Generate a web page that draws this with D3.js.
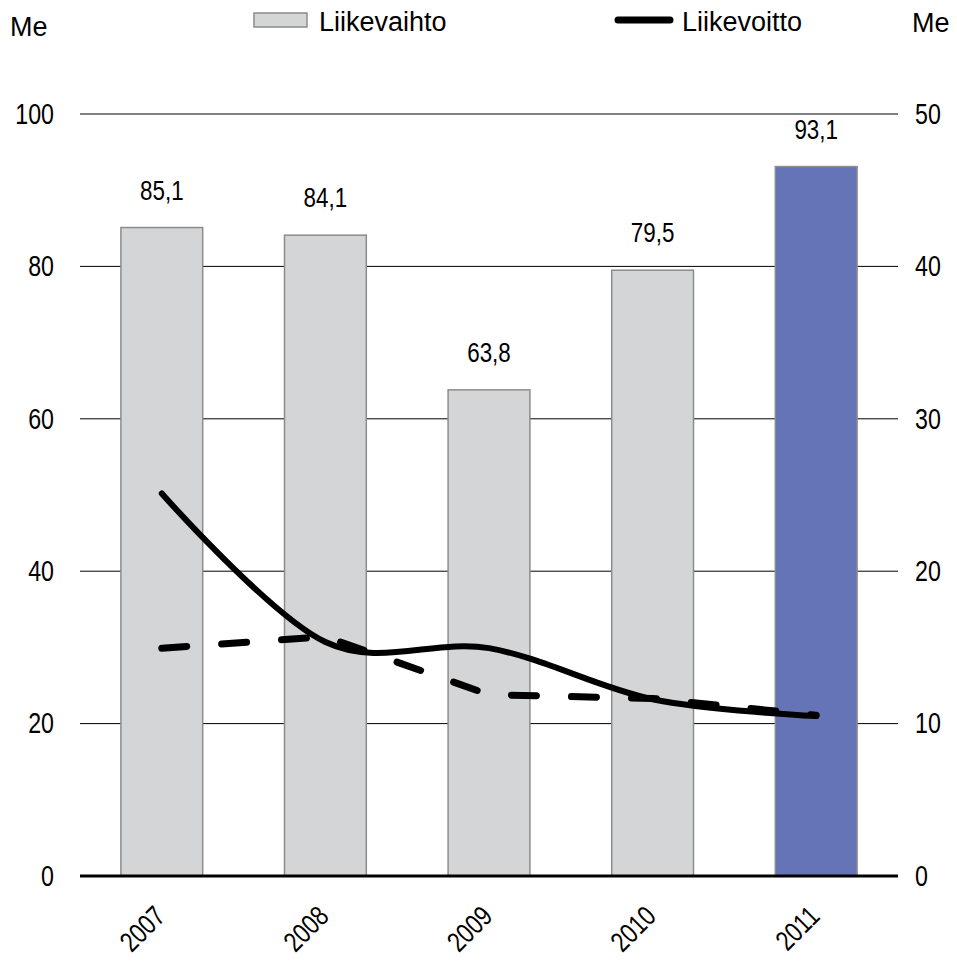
<!DOCTYPE html>
<html>
<head>
  <script src="https://d3js.org/d3.v7.min.js"></script>
  <meta charset='utf-8'>
  <title>Liikevaihto ja liikevoitto</title>
  <style>
    body { margin: 0; background: #fff; }
    svg text { font-family: "Liberation Sans", Arial, sans-serif; fill: #000; }
  </style>
</head>

<body>
  <div id="container"></div>

  <script>
  // data
  const years = ["2007", "2008", "2009", "2010", "2011"];
  const liikevaihto = [85.1, 84.1, 63.8, 79.5, 93.1];
  const liikevoitto = [25.1, 15.35, 14.95, 11.6, 10.5];
  const dashed = [14.95, 15.7, 11.9, 11.65, 10.55];
  const leftTicks = [0, 20, 40, 60, 80, 100];
  const rightTicks = [0, 10, 20, 30, 40, 50];

  const
  width = 957,
  height = 961,
  narrow = "scale(0.8,1)", // no Arial Narrow here, so squeeze Liberation Sans
  margin = {
    top: 114,
    bottom: 85,
    left: 80,
    right: 59,
  };

  const svg = d3.select("#container").append("svg")
  .attr("width", width)
  .attr("height", height)

  const x = d3.scaleBand()
  .domain(years)
  .range([margin.left, width - margin.right])
  .paddingInner(0.5)
  .paddingOuter(0.25)

  const yL = d3.scaleLinear().domain([0, 100]).range([height - margin.bottom, margin.top])
  const yR = d3.scaleLinear().domain([0, 50]).range([height - margin.bottom, margin.top])

  const cx = (d, i) => x(years[i]) + x.bandwidth() / 2

  // gridlines
  svg.append("g")
  .selectAll("line")
  .data(leftTicks.filter(d => d > 0))
  .enter()
  .append("line")
  .attr("x1", margin.left)
  .attr("x2", width - margin.right)
  .attr("y1", d => yL(d))
  .attr("y2", d => yL(d))
  .attr("stroke", "#000")
  .attr("stroke-width", 1)

  // left axis labels
  const leftAxis = svg.append("g")
  .attr("transform", `translate(${margin.left - 26},0)`)
  .call(d3.axisLeft(yL).tickValues(leftTicks).tickSize(0).tickPadding(0))
  leftAxis.select(".domain").remove()
  leftAxis.selectAll("text")
  .attr("font-size", 29)
  .attr("font-family", null)
  .attr("transform", narrow)

  // right axis labels
  const rightAxis = svg.append("g")
  .attr("transform", `translate(${width - margin.right + 17},0)`)
  .call(d3.axisRight(yR).tickValues(rightTicks).tickSize(0).tickPadding(0))
  rightAxis.select(".domain").remove()
  rightAxis.selectAll("text")
  .attr("font-size", 29)
  .attr("font-family", null)
  .attr("transform", narrow)

  // bars
  svg.append("g")
  .selectAll("rect")
  .data(liikevaihto)
  .enter()
  .append("rect")
  .attr("x", (d, i) => x(years[i]))
  .attr("width", x.bandwidth())
  .attr("y", d => yL(d))
  .attr("height", d => yL(0) - yL(d))
  .attr("fill", (d, i) => i === years.length - 1 ? "#6574b6" : "#d4d5d7")
  .attr("stroke", "#8c8c8c")
  .attr("stroke-width", 1.5)

  // bar value labels
  svg.append("g")
  .selectAll("text")
  .data(liikevaihto)
  .enter()
  .append("text")
  .attr("transform", (d, i) => `translate(${cx(d, i)},${yL(d) - 28}) ${narrow}`)
  .attr("text-anchor", "middle")
  .attr("font-size", 28)
  .text(d => String(d).replace(".", ","))

  // zero axis line
  svg.append("line")
  .attr("x1", margin.left)
  .attr("x2", width - margin.right)
  .attr("y1", yL(0))
  .attr("y2", yL(0))
  .attr("stroke", "#000")
  .attr("stroke-width", 3)

  // year labels
  svg.append("g")
  .selectAll("text")
  .data(years)
  .enter()
  .append("text")
  .attr("transform", d => `translate(${x(d) + x.bandwidth() / 2 + 5},${yL(0) + 42}) rotate(-45) ${narrow}`)
  .attr("text-anchor", "end")
  .attr("font-size", 28)
  .text(d => d)

  // dashed line
  svg.append("path")
  .datum(dashed)
  .attr("fill", "none")
  .attr("stroke", "#000")
  .attr("stroke-width", 7)
  .attr("stroke-linecap", "round")
  .attr("stroke-dasharray", "25,35")
  .attr("d", d3.line().x(cx).y(d => yR(d)))

  // liikevoitto, smoothed
  svg.append("path")
  .datum(liikevoitto)
  .attr("fill", "none")
  .attr("stroke", "#000")
  .attr("stroke-width", 6)
  .attr("stroke-linecap", "round")
  .attr("d", d3.line().x(cx).y(d => yR(d)).curve(d3.curveCardinal.tension(0)))

  // unit labels
  svg.append("text")
  .attr("x", 10).attr("y", 36).attr("font-size", 27).text("Me")
  svg.append("text")
  .attr("x", 912).attr("y", 32).attr("font-size", 27).text("Me")

  // legend
  const legend = svg.append("g")
  legend.append("rect")
  .attr("x", 254).attr("y", 13).attr("width", 53).attr("height", 14)
  .attr("fill", "#d4d5d7").attr("stroke", "#8c8c8c").attr("stroke-width", 1.5)
  legend.append("text")
  .attr("x", 319).attr("y", 31).attr("font-size", 27).text("Liikevaihto")
  legend.append("line")
  .attr("x1", 618).attr("x2", 670).attr("y1", 20).attr("y2", 20)
  .attr("stroke", "#000").attr("stroke-width", 7).attr("stroke-linecap", "round")
  legend.append("text")
  .attr("x", 682).attr("y", 31).attr("font-size", 27).text("Liikevoitto")
  </script>

</body>
</html>
